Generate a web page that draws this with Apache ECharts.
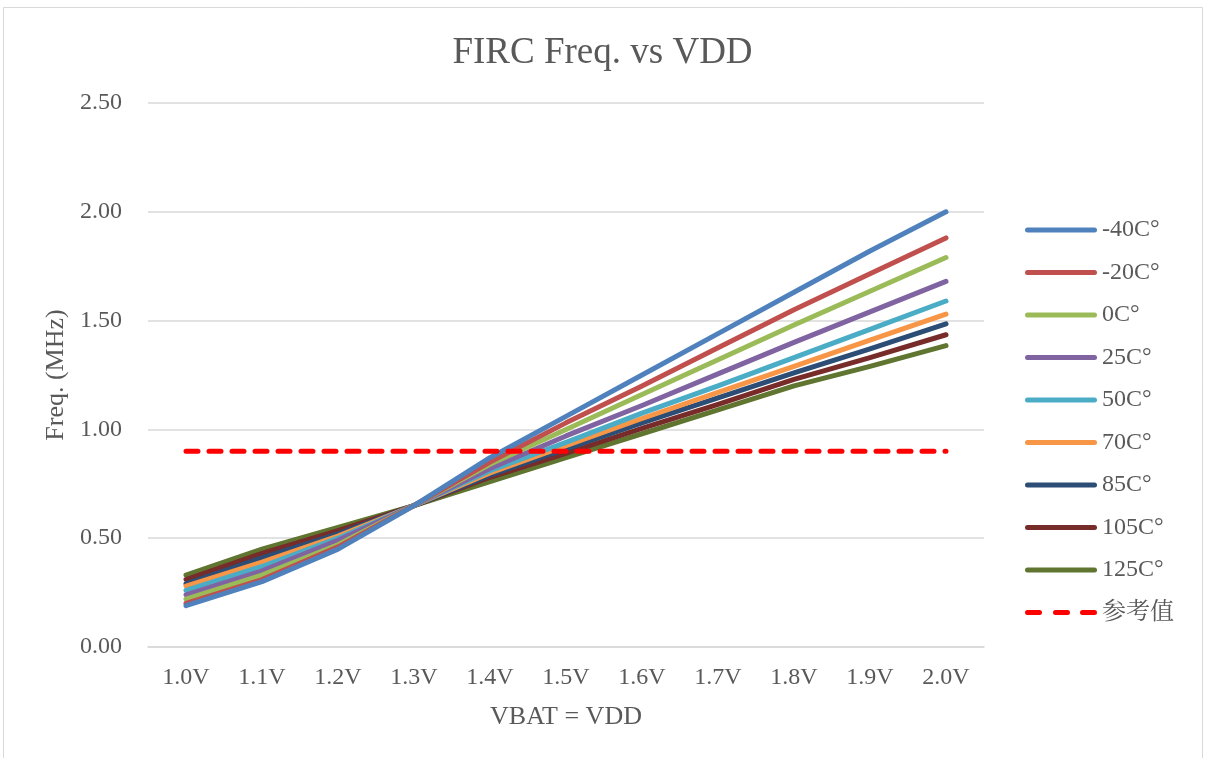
<!DOCTYPE html>
<html>
<head>
<meta charset="utf-8">
<script src="https://cdn.jsdelivr.net/npm/echarts@6/dist/echarts.min.js"></script>
<style>html,body{margin:0;padding:0;background:#fff;}#c{width:1205px;height:758px;}</style>
</head>
<body>
<div id="c"></div>
<script>
const categories = ['1.0V','1.1V','1.2V','1.3V','1.4V','1.5V','1.6V','1.7V','1.8V','1.9V','2.0V'];
const seriesNames = ['-40C°','-20C°','0C°','25C°','50C°','70C°','85C°','105C°','125C°','参考值'];
const tM40 = [0.19, 0.30, 0.45, 0.65, 0.87, 1.06, 1.25, 1.44, 1.63, 1.82, 2.00];
const tM20 = [0.20, 0.31, 0.46, 0.65, 0.85, 1.03, 1.20, 1.375, 1.55, 1.715, 1.88];
const t0   = [0.22, 0.33, 0.47, 0.65, 0.84, 1.00, 1.16, 1.32, 1.48, 1.635, 1.79];
const t25  = [0.24, 0.35, 0.49, 0.65, 0.82, 0.97, 1.11, 1.255, 1.40, 1.54, 1.68];
const t50  = [0.26, 0.37, 0.50, 0.65, 0.81, 0.94, 1.075, 1.20, 1.33, 1.46, 1.59];
const t70  = [0.28, 0.39, 0.51, 0.65, 0.80, 0.925, 1.05, 1.17, 1.29, 1.41, 1.53];
const t85  = [0.29, 0.41, 0.52, 0.65, 0.79, 0.91, 1.03, 1.145, 1.26, 1.37, 1.485];
const t105 = [0.31, 0.43, 0.535, 0.65, 0.78, 0.89, 1.005, 1.115, 1.23, 1.33, 1.435];
const t125 = [0.33, 0.45, 0.55, 0.65, 0.76, 0.87, 0.98, 1.09, 1.20, 1.29, 1.385];
const ref  = [0.9, 0.9, 0.9, 0.9, 0.9, 0.9, 0.9, 0.9, 0.9, 0.9, 0.9];
const yTicks = [0, 0.5, 1.0, 1.5, 2.0, 2.5];

const colors = ['#4F81BD','#C0504D','#9BBB59','#8064A2','#4BACC6','#F79646','#2C4D75','#772C2A','#5F7530','#FF0000'];
const dataSets = [tM40,tM20,t0,t25,t50,t70,t85,t105,t125,ref];
const FONT = 'Liberation Serif, "Times New Roman", "Noto Serif CJK SC", "Noto Sans CJK SC", serif';

const series = dataSets.map((d, i) => ({
  name: seriesNames[i],
  type: 'line',
  data: d,
  symbol: 'none',
  smooth: false,
  z: i === 9 ? 10 : 9 - i,
  lineStyle: i === 9
    ? {color: colors[i], width: 5, type: [12, 11], cap: 'round'}
    : {color: colors[i], width: 5, cap: 'round', join: 'round'},
  itemStyle: {color: colors[i]},
  emphasis: {disabled: true}
}));

const dashIcon = 'path://M2.5,0h12a2.5,2.5 0 0 1 0,5h-12a2.5,2.5 0 0 1 0,-5z M30.5,0h12a2.5,2.5 0 0 1 0,5h-12a2.5,2.5 0 0 1 0,-5z M57.5,0h12a2.5,2.5 0 0 1 0,5h-12a2.5,2.5 0 0 1 0,-5z';
const solidIcon = 'path://M2.5,0h67a2.5,2.5 0 0 1 0,5h-67a2.5,2.5 0 0 1 0,-5z';

const chart = echarts.init(document.getElementById('c'), null, {renderer: 'canvas'});
chart.setOption({
  animation: false,
  backgroundColor: '#fff',
  color: colors,
  title: {
    text: 'FIRC Freq. vs VDD',
    left: 'center', top: 30,
    textStyle: {fontFamily: FONT, fontSize: 37, fontWeight: 'normal', color: '#595959'}
  },
  graphic: [{
    type: 'rect', shape: {x: 3.5, y: 7.5, width: 1199, height: 760},
    style: {fill: 'none', stroke: '#D9D9D9', lineWidth: 1}, silent: true, z: -1
  }],
  legend: {
    orient: 'vertical',
    left: 1020, top: 213,
    itemWidth: 72, itemHeight: 5, itemGap: 18.5, itemTextGap: 7,
    textStyle: {fontFamily: FONT, fontSize: 24, color: '#595959'},
    data: seriesNames.map((n, i) => ({name: n, icon: i === 9 ? dashIcon : solidIcon}))
  },
  grid: {left: 148, right: 221, top: 103, bottom: 111, containLabel: false},
  xAxis: {
    type: 'category',
    data: categories,
    boundaryGap: true,
    name: 'VBAT = VDD',
    nameLocation: 'middle',
    nameGap: 57,
    nameTextStyle: {fontFamily: FONT, fontSize: 26, color: '#595959'},
    axisLine: {show: true, lineStyle: {color: '#D9D9D9', width: 1.5}},
    axisTick: {show: false},
    axisLabel: {fontFamily: FONT, fontSize: 24, color: '#595959', margin: 19}
  },
  yAxis: {
    type: 'value',
    min: 0, max: 2.5, interval: 0.5,
    name: 'Freq. (MHz)',
    nameLocation: 'middle',
    nameGap: 74,
    nameRotate: 90,
    nameTextStyle: {fontFamily: FONT, fontSize: 26, color: '#595959'},
    axisLine: {show: false},
    axisTick: {show: false},
    splitLine: {lineStyle: {color: '#D9D9D9', width: 1.5}},
    axisLabel: {fontFamily: FONT, fontSize: 24, color: '#595959', margin: 26,
      formatter: v => yTicks.indexOf(v) >= 0 ? v.toFixed(2) : ''}
  },
  series: series
});
</script>
</body>
</html>
